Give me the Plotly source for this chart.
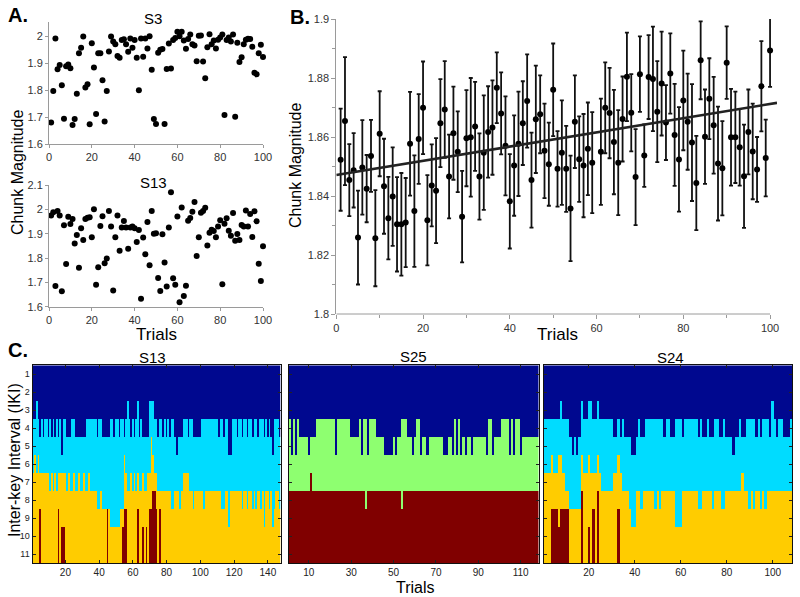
import plotly.graph_objects as go

W, H = 800, 597
FONT = "Liberation Sans, Arial, Helvetica, sans-serif"

# ---------------- Panel A data ----------------
s3_values = [1.680, 1.796, 1.991, 1.877, 1.893, 1.818, 1.694, 1.888, 1.895, 1.881,
             1.670, 1.693, 1.786, 1.936, 1.957, 1.998, 1.809, 1.821, 1.673, 1.973,
             1.883, 1.711, 1.936, 1.936, 1.836, 1.683, 1.796, 1.943, 1.998, 1.980,
             1.970, 1.926, 1.920, 1.985, 1.988, 1.970, 1.942, 1.991, 1.957, 1.985,
             1.920, 1.799, 1.991, 1.923, 1.991, 1.954, 1.999, 1.875, 1.693, 1.674,
             1.938, 1.949, 1.952, 1.674, 1.878, 1.972, 1.880, 1.985, 1.993, 2.016,
             1.999, 2.016, 1.983, 1.953, 1.989, 2.006, 1.970, 1.965, 1.907, 2.001,
             2.002, 1.906, 1.844, 1.958, 2.007, 1.970, 1.983, 1.954, 1.986, 1.995,
             2.006, 1.707, 1.985, 1.995, 1.980, 2.006, 1.701, 1.975, 1.904, 1.921,
             1.970, 1.986, 1.990, 1.989, 1.960, 1.864, 1.858, 1.936, 1.968, 1.922]

s13_values = [1.975, 1.988, 1.685, 1.993, 1.975, 1.663, 1.935, 1.775, 1.970, 1.940,
              1.960, 1.860, 1.895, 1.760, 1.922, 1.874, 1.960, 1.965, 1.968, 1.885,
              2.000, 1.690, 1.762, 1.932, 1.972, 1.778, 1.798, 1.993, 1.930, 1.667,
              1.885, 1.975, 1.830, 1.925, 1.952, 1.925, 1.838, 1.925, 1.930, 1.922,
              1.866, 1.915, 1.633, 1.884, 1.815, 1.948, 1.770, 1.993, 1.900, 1.902,
              1.718, 1.665, 1.898, 1.782, 1.683, 1.925, 2.070, 1.717, 1.690, 1.971,
              1.618, 2.008, 1.644, 1.686, 1.953, 1.964, 1.990, 2.030, 1.808, 1.885,
              1.986, 1.993, 2.007, 1.851, 1.904, 1.916, 1.911, 1.885, 1.930, 1.955,
              1.692, 1.941, 1.963, 1.912, 1.892, 1.985, 1.871, 1.899, 1.874, 1.936,
              1.929, 1.995, 1.929, 1.981, 1.886, 1.992, 1.951, 1.776, 1.706, 1.848]

# ---------------- Panel B data ----------------
b_trials = [t for t in range(1, 101) if t != 60]
b_means = [1.8523, 1.8654, 1.8454, 1.8487, 1.8259, 1.8497, 1.8425, 1.8536, 1.8257, 1.8611,
           1.8433, 1.8325, 1.8398, 1.8304, 1.8304, 1.8310, 1.8577, 1.8349, 1.8593, 1.8699,
           1.8318, 1.8436, 1.8418, 1.8647, 1.8693, 1.8466, 1.8613, 1.8550, 1.8330, 1.8596,
           1.8599, 1.8636, 1.8466, 1.8547, 1.8617, 1.8632, 1.8767, 1.8680, 1.8570, 1.8382,
           1.8503, 1.8577, 1.8647, 1.8722, 1.8454, 1.8660, 1.8677, 1.8553, 1.8508, 1.8760,
           1.8492, 1.8547, 1.8492, 1.8358, 1.8652, 1.8525, 1.8503, 1.8560, 1.8513,
           1.8550, 1.8699, 1.8681, 1.8583, 1.8513, 1.8661, 1.8804, 1.8682, 1.8464, 1.8813,
           1.8537, 1.8803, 1.8797, 1.8686, 1.8781, 1.8649, 1.8815, 1.8607, 1.8524, 1.8724,
           1.8652, 1.8581, 1.8444, 1.8860, 1.8601, 1.8730, 1.8640, 1.8510, 1.8494, 1.8852,
           1.8599, 1.8599, 1.8565, 1.8467, 1.8617, 1.8551, 1.8490, 1.8772, 1.8529, 1.8893]
b_errors = [0.0173, 0.0217, 0.0122, 0.0126, 0.0159, 0.0160, 0.0114, 0.0122, 0.0163, 0.0144,
            0.0161, 0.0140, 0.0167, 0.0160, 0.0174, 0.0151, 0.0176, 0.0189, 0.0152, 0.0157,
            0.0153, 0.0139, 0.0178, 0.0149, 0.0164, 0.0142, 0.0158, 0.0137, 0.0155, 0.0163,
            0.0201, 0.0151, 0.0146, 0.0194, 0.0155, 0.0160, 0.0120, 0.0139, 0.0168, 0.0160,
            0.0170, 0.0177, 0.0142, 0.0158, 0.0161, 0.0182, 0.0132, 0.0160, 0.0141, 0.0157,
            0.0128, 0.0177, 0.0146, 0.0179, 0.0157, 0.0145, 0.0175, 0.0157, 0.0171,
            0.0180, 0.0154, 0.0153, 0.0177, 0.0178, 0.0144, 0.0150, 0.0131, 0.0163, 0.0128,
            0.0106, 0.0142, 0.0177, 0.0171, 0.0176, 0.0127, 0.0136, 0.0173, 0.0177, 0.0169,
            0.0163, 0.0198, 0.0160, 0.0132, 0.0160, 0.0137, 0.0164, 0.0193, 0.0160, 0.0123,
            0.0164, 0.0155, 0.0130, 0.0175, 0.0144, 0.0162, 0.0110, 0.0153, 0.0130, 0.0123]
fit_intercept = 1.8471
fit_slope = 0.000241
fit_x = [0, 101.6]

# ---------------- Panel C data (per-trial cluster boundaries, IKI rows 1..11) ----------------
iki_rows = list(range(1, 12))
# S13: navy ends at row a, cyan ends at row b, yellow ends at row c, maroon below
s13_a = [3,3,2,3,4,3,4,3,3,4, 3,4,3,4,3,4,3,5,3,3, 4,4,4,3,3,4,4,4,4,4, 4,4,3,3,3,3,3,3,4,3,
         3,4,4,4,4,4,3,3,4,3, 3,4,3,3,4,3,2,3,4,3, 4,3,2,4,3,4,4,4,4,2, 2,2,3,3,4,3,3,4,3,4,
         3,4,3,3,4,5,4,4,4,3, 3,3,4,3,3,4,4,4,4,4, 3,3,3,3,3,3,3,3,3,3, 4,3,3,4,3,3,5,5,3,3,
         3,4,3,3,4,3,3,4,3,3, 4,3,3,4,3,3,3,4,3,4, 3,4,5,3,3,3,4]
s13_b = [6,5,6,5,6,6,6,6,6,6, 7,6,7,6,7,6,6,6,6,6, 7,6,7,7,6,7,7,6,7,7, 6,7,7,6,7,7,7,7,8,8,
         7,8,8,8,8,8,9,9,9,9, 9,9,8,8,5,6,7,7,6,7, 6,7,6,7,7,6,7,7,6,6, 4,5,6,6,7,7,7,7,7,7,
         7,7,8,8,7,7,7,8,7,6, 6,6,6,7,7,8,7,7,7,7, 7,8,7,7,7,7,7,7,7,7, 7,7,8,8,7,7,9,7,7,7,
         7,7,7,7,8,7,7,8,7,7, 8,7,8,7,7,8,7,9,7,7, 8,7,9,8,7,7,8]
s13_c = [11,11,11,11,8,11,11,11,11,11, 11,11,11,11,11,8,11,9,9,11,
         11,11,11,11,11,11,11,11,11,11, 11,11,11,11,11,11,11,11,11,11,
         11,11,11,11,8,11,11,11,11,11, 11,11,11,9,8,8,11,11,11,11,
         11,11,8,11,11,9,11,9,11,8, 8,7,7,8,11,8,11,11,11,11,
         11,11,11,11,11,11,11,11,11,11, 11,11,11,11,11,11,11,11,11,11,
         11,11,11,11,11,11,11,11,11,11, 11,11,11,11,11,11,11,11,11,11,
         11,11,11,11,11,11,11,11,11,11, 11,11,11,11,11,11,11,11,11,11,
         11,11,11,11,11,11,11]
# S25: navy ends at row a, green ends at row b, maroon below
s25_a = [3,5,3,5,3,4,4,4,4,5, 4,4,4,3,3,3,3,3,3,3, 3,3,5,3,3,3,3,3,3,4, 4,4,4,3,5,3,3,5,3,3,
         3,4,4,4,4,5,5,5,5,4, 5,4,4,3,3,3,4,4,5,4, 3,3,5,4,4,5,4,4,4,4, 4,4,4,5,5,4,4,5,3,5,
         3,5,4,5,4,4,5,4,4,4, 4,4,4,5,3,3,5,4,4,4, 3,3,3,3,5,3,5,3,3,5, 4,4,4,4,4,4,4,4]
s25_b = [7,7,7,7,7,7,7,7,7,7, 6,7,7,7,7,7,7,7,7,7, 7,7,7,7,7,7,7,7,7,7, 7,7,7,7,7,7,8,7,7,7,
         7,7,7,7,7,7,7,7,7,7, 7,7,7,8,7,7,7,7,7,7, 7,7,7,7,7,7,7,7,7,7, 7,7,7,7,7,7,7,7,7,7,
         7,7,7,7,7,7,7,7,7,7, 7,7,7,7,7,7,7,7,7,7, 7,7,7,7,7,7,7,7,7,7, 7,7,7,7,7,7,7,7]
# S24: navy ends at row a, cyan ends at row b, yellow ends at row c, maroon below
s24_a = [3,3,3,3,3,3,3,2,3,3, 3,4,5,4,5,4,2,3,3,2, 2,3,3,2,3,3,3,3,3,3, 4,4,3,4,3,4,4,4,5,5,
         4,3,4,4,3,3,3,3,3,3, 3,3,4,3,3,4,4,3,3,3, 4,3,3,3,3,3,3,4,3,4, 4,3,4,4,3,3,4,4,3,4,
         4,4,5,4,4,3,4,4,3,3, 3,3,4,3,4,3,3,3,4,2, 3,4,3,3,4,4,4,3]
s24_b = [6,6,6,5,6,6,5,5,6,7, 7,8,8,8,8,8,5,6,6,5, 6,6,6,5,6,7,7,7,7,7, 6,6,5,6,7,7,7,8,9,9,
         7,7,8,7,7,7,7,7,8,7, 8,7,7,7,7,7,7,9,9,9, 7,7,7,7,7,7,7,8,8,7, 7,7,7,8,7,7,7,8,8,7,
         7,7,7,7,7,7,6,7,7,8, 7,8,7,7,8,7,8,7,7,7, 7,7,7,7,7,7,7,7]
s24_c = [11,11,11,8,8,8,9,8,8,8, 8,11,11,11,11,11,7,11,11,9, 11,8,11,7,11,11,11,11,11,11,
         11,11,8,11,11,11,11,11,11,11, 11,11,11,11,11,11,11,11,11,11, 11,11,11,11,11,11,11,11,11,11,
         11,11,11,11,11,11,11,11,11,11, 11,11,11,11,11,11,11,11,11,11, 11,11,11,11,11,11,11,11,11,11,
         11,11,11,11,11,11,11,11,11,11, 11,11,11,11,11,11,11,11]

C_NAVY, C_CYAN, C_GREEN, C_YELLOW, C_MAROON = "#00088F", "#00DCFF", "#8EFF70", "#FFCC00", "#800000"


def four_cluster(a, b, c):
    z = []
    for r in iki_rows:
        row = []
        for ai, bi, ci in zip(a, b, c):
            row.append(0 if r <= ai else 1 if r <= bi else 3 if r <= ci else 4)
        z.append(row)
    return z


def three_cluster(a, b):
    z = []
    for r in iki_rows:
        z.append([0 if r <= ai else 2 if r <= bi else 4 for ai, bi in zip(a, b)])
    return z


def px(x):
    return x / W


def py(y):
    return 1 - y / H


fig = go.Figure()

GRAY = "#9a9a9a"
TICKFONT = dict(family=FONT, size=11, color="#333")

# ---- A top (S3)
fig.add_trace(go.Scatter(x=list(range(1, len(s3_values) + 1)), y=s3_values, mode="markers",
                         marker=dict(color="black", size=6), cliponaxis=False,
                         xaxis="x", yaxis="y", showlegend=False))
# ---- A bottom (S13)
fig.add_trace(go.Scatter(x=list(range(1, len(s13_values) + 1)), y=s13_values, mode="markers",
                         marker=dict(color="black", size=6), cliponaxis=False,
                         xaxis="x2", yaxis="y2", showlegend=False))
# ---- B
fig.add_trace(go.Scatter(x=b_trials, y=b_means, mode="markers",
                         marker=dict(color="black", size=6),
                         error_y=dict(type="data", array=b_errors, color="#111", thickness=1.8, width=2),
                         cliponaxis=False, xaxis="x3", yaxis="y3", showlegend=False))
fig.add_trace(go.Scatter(x=fit_x, y=[fit_intercept + fit_slope * v for v in fit_x], mode="lines",
                         line=dict(color="#222", width=2.6), xaxis="x3", yaxis="y3", showlegend=False))

# ---- C heatmaps
cscale = [[0, C_NAVY], [0.2, C_NAVY], [0.2, C_CYAN], [0.4, C_CYAN], [0.4, C_GREEN], [0.6, C_GREEN],
          [0.6, C_YELLOW], [0.8, C_YELLOW], [0.8, C_MAROON], [1, C_MAROON]]
heat = [
    (four_cluster(s13_a, s13_b, s13_c), len(s13_a), "x4", "y4"),
    (three_cluster(s25_a, s25_b), len(s25_a), "x5", "y5"),
    (four_cluster(s24_a, s24_b, s24_c), len(s24_a), "x6", "y6"),
]
for z, n, xa, ya in heat:
    fig.add_trace(go.Heatmap(z=z, x=list(range(1, n + 1)), y=iki_rows, colorscale=cscale,
                             zmin=-0.5, zmax=4.5, showscale=False, xaxis=xa, yaxis=ya,
                             hoverinfo="skip"))

common_a = dict(showline=True, linecolor=GRAY, linewidth=1, ticks="outside", ticklen=3,
                tickcolor=GRAY, tickfont=TICKFONT, showgrid=False, zeroline=False,
                automargin=False)

layout = dict(
    template="none",
    width=W, height=H, margin=dict(l=0, r=0, t=0, b=0, pad=0), autosize=False,
    paper_bgcolor="white", plot_bgcolor="white", showlegend=False,
    font=dict(family=FONT, color="black"),
    xaxis=dict(domain=[px(49), px(263)], range=[0, 100], tickvals=[0, 20, 40, 60, 80, 100],
               anchor="y", **common_a),
    yaxis=dict(domain=[py(144), py(22)], range=[1.6, 2.052], tickvals=[1.6, 1.7, 1.8, 1.9, 2.0],
               ticktext=["1.6", "1.7", "1.8", "1.9", "2"], anchor="x", **common_a),
    xaxis2=dict(domain=[px(49), px(263)], range=[0, 100], tickvals=[0, 20, 40, 60, 80, 100],
                anchor="y2", **common_a),
    yaxis2=dict(domain=[py(306.7), py(185)], range=[1.6, 2.1],
                tickvals=[1.6, 1.7, 1.8, 1.9, 2.0, 2.1],
                ticktext=["1.6", "1.7", "1.8", "1.9", "2", "2.1"], anchor="x2", **common_a),
    xaxis3=dict(domain=[px(336.3), px(777)], range=[0, 101.6], tickvals=[0, 20, 40, 60, 80, 100],
                anchor="y3", showline=False, ticks="outside", ticklen=4, tickcolor=GRAY,
                tickfont=TICKFONT, showgrid=False, zeroline=False, automargin=False,
                minor=dict(tickvals=[10, 30, 50, 70, 90], ticklen=3, tickcolor=GRAY, ticks="outside")),
    yaxis3=dict(domain=[py(314), py(19)], range=[1.8, 1.9],
                tickvals=[1.8, 1.82, 1.84, 1.86, 1.88, 1.9],
                ticktext=["1.8", "1.82", "1.84", "1.86", "1.88", "1.9"], anchor="x3",
                minor=dict(tickvals=[1.81, 1.83, 1.85, 1.87, 1.89], ticklen=3, tickcolor=GRAY,
                           ticks="outside"),
                **{**common_a, "ticklen": 4}),
)

heat_axes = [("x4", "y4", 32.5, 280.5, 147, [20, 40, 60, 80, 100, 120, 140], True),
             ("x5", "y5", 288.7, 538.7, 118, [10, 30, 50, 70, 90, 110], False),
             ("x6", "y6", 544, 792.3, 108, [20, 40, 60, 80, 100], False)]
for xa, ya, x0, x1, n, xt, ylab in heat_axes:
    xk = "xaxis" + xa[1:]
    yk = "yaxis" + ya[1:]
    layout[xk] = dict(domain=[px(x0), px(x1)], range=[0.5, n + 0.5], anchor=ya, tickvals=xt,
                      showline=True, linecolor="#111", linewidth=1, mirror="ticks",
                      ticks="inside", ticklen=3, tickcolor="#222",
                      tickfont=dict(family=FONT, size=10, color="#222"),
                      showgrid=False, zeroline=False, automargin=False)
    layout[yk] = dict(domain=[py(563.3), py(365.3)], range=[11.5, 0.5], anchor=xa,
                      tickvals=iki_rows, showticklabels=ylab, showline=True, linecolor="#111",
                      linewidth=1, mirror="ticks", ticks="inside", ticklen=3, tickcolor="#222",
                      tickfont=dict(family=FONT, size=9, color="#222"),
                      showgrid=False, zeroline=False, automargin=False)

fig.update_layout(**layout)

# B x-axis baseline only spans 0..100
fig.add_shape(type="line", xref="x3", yref="paper", x0=0, x1=100, y0=py(314), y1=py(314),
              line=dict(color=GRAY, width=1))


def label(text, x, y, size, angle=0, bold=False):
    fig.add_annotation(text=("<b>%s</b>" % text) if bold else text, x=px(x), y=py(y),
                       xref="paper", yref="paper", showarrow=False, textangle=angle,
                       font=dict(family=FONT, size=size, color="black"),
                       xanchor="center", yanchor="middle")


label("A.", 18, 15, 20, bold=True)
label("B.", 300, 17, 20, bold=True)
label("C.", 18, 350, 20, bold=True)
label("S3", 153, 19, 15)
label("S13", 153, 182, 15)
label("Chunk Magnitude", 17, 172, 16, angle=-90)
label("Trials", 156, 334, 17)
label("Chunk Magnitude", 296, 165, 16, angle=-90)
label("Trials", 557, 335, 17)
label("S13", 152, 357, 15)
label("S25", 413, 356, 15)
label("S24", 670, 357, 15)
label("Inter-key Interval (IKI)", 14, 460, 16, angle=-90)
label("Trials", 415, 587, 16)

fig.write_html(
    "out.html",
    config={"displayModeBar": False},
    post_script="document.body.style.margin='0px';document.body.style.padding='0px';"
                "document.documentElement.style.overflow='hidden';",
)
